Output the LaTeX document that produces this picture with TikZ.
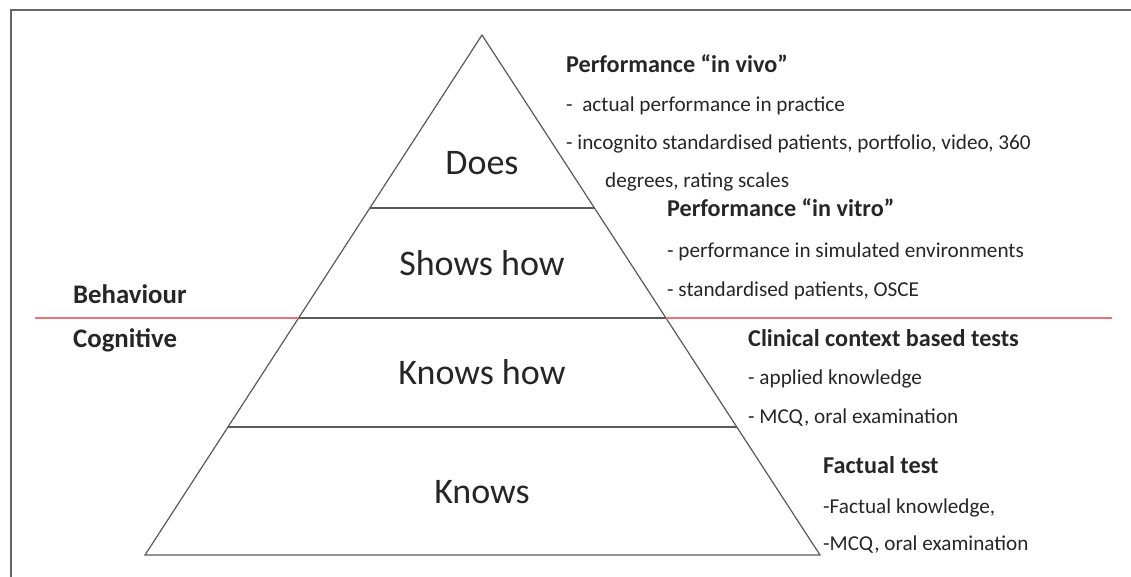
\documentclass[tikz,border=0pt]{standalone}
\usepackage{fontspec}
\setmainfont{Carlito}
\usetikzlibrary{calc}
\definecolor{txt}{HTML}{262626}
\definecolor{edge}{HTML}{5A5A5A}
\definecolor{frame}{HTML}{666666}
\definecolor{divider}{HTML}{EB7272}
\begin{document}
\begin{tikzpicture}[x=1pt,y=-1pt,
  level/.style={font=\fontsize{36}{36}\selectfont, text=txt, anchor=base, inner sep=0},
  head/.style={font=\fontsize{24.2}{25}\selectfont\bfseries, text=txt, anchor=base west, inner sep=0},
  item/.style={font=\fontsize{21.2}{22}\selectfont, text=txt, anchor=base west, inner sep=0},
  side/.style={font=\fontsize{26.8}{27}\selectfont\bfseries, text=txt, anchor=base west, inner sep=0},
  tri/.style={draw=edge, line width=1.2pt},
  sep/.style={draw=edge, line width=1.2pt},
  boundary/.style={draw=divider, line width=1.7pt}]
\useasboundingbox (0,0) rectangle (1131,577);

% outer frame (top and left only)
\draw[frame, line width=2.6pt] (1131,10) -- (11,10) -- (11,577);

% pyramid
\coordinate (apex) at (482,35);
\coordinate (bl) at (145,555);
\coordinate (br) at (820,555);
\draw[tri, line join=miter] (apex) -- (br) -- (bl) -- cycle;

% level separators
\coordinate (l1) at ($(apex)!0.3327!(bl)$);
\coordinate (r1) at ($(apex)!0.3327!(br)$);
\coordinate (l2) at ($(apex)!0.5442!(bl)$);
\coordinate (r2) at ($(apex)!0.5442!(br)$);
\coordinate (l3) at ($(apex)!0.7538!(bl)$);
\coordinate (r3) at ($(apex)!0.7538!(br)$);
\draw[sep] (l1) -- (r1);
\draw[sep] (l2) -- (r2);
\draw[sep] (l3) -- (r3);

% behaviour / cognitive boundary
\coordinate (dl) at (35,318);
\coordinate (dr) at (1112,318);
\draw[boundary] (dl) -- (l2);
\draw[boundary] (r2) -- (dr);

% level names
\node[level] (does) at (482,175) {Does};
\node[level] (shows) at (482,275) {Shows how};
\node[level] (knowshow) at (482,384) {Knows how};
\node[level] (knows) at (482,503) {Knows};

% domain names
\node[side] (beh) at (73,303) {Behaviour};
\node[side] (cog) at (73,347) {Cognitive};

% assessment methods
\node[head] (h1) at (566,73) {Performance “in vivo”};
\node[item] (a1) at (566,112) {-\ \ actual performance in practice};
\node[item] (a2) at (566,150) {- incognito standardised patients, portfolio, video, 360};
\node[item] (a3) at (605,188) {degrees, rating scales};

\node[head] (h2) at (667,217) {Performance “in vitro”};
\node[item] (b1) at (667,258) {- performance in simulated environments};
\node[item] (b2) at (667,296) {- standardised patients, OSCE};

\node[head] (h3) at (748,346) {Clinical context based tests};
\node[item] (c1) at (748,384) {- applied knowledge};
\node[item] (c2) at (748,423) {- MCQ, oral examination};

\node[head] (h4) at (823,473) {Factual test};
\node[item] (d1) at (823,513) {-Factual knowledge,};
\node[item] (d2) at (823,550) {-MCQ, oral examination};
\end{tikzpicture}
\end{document}
